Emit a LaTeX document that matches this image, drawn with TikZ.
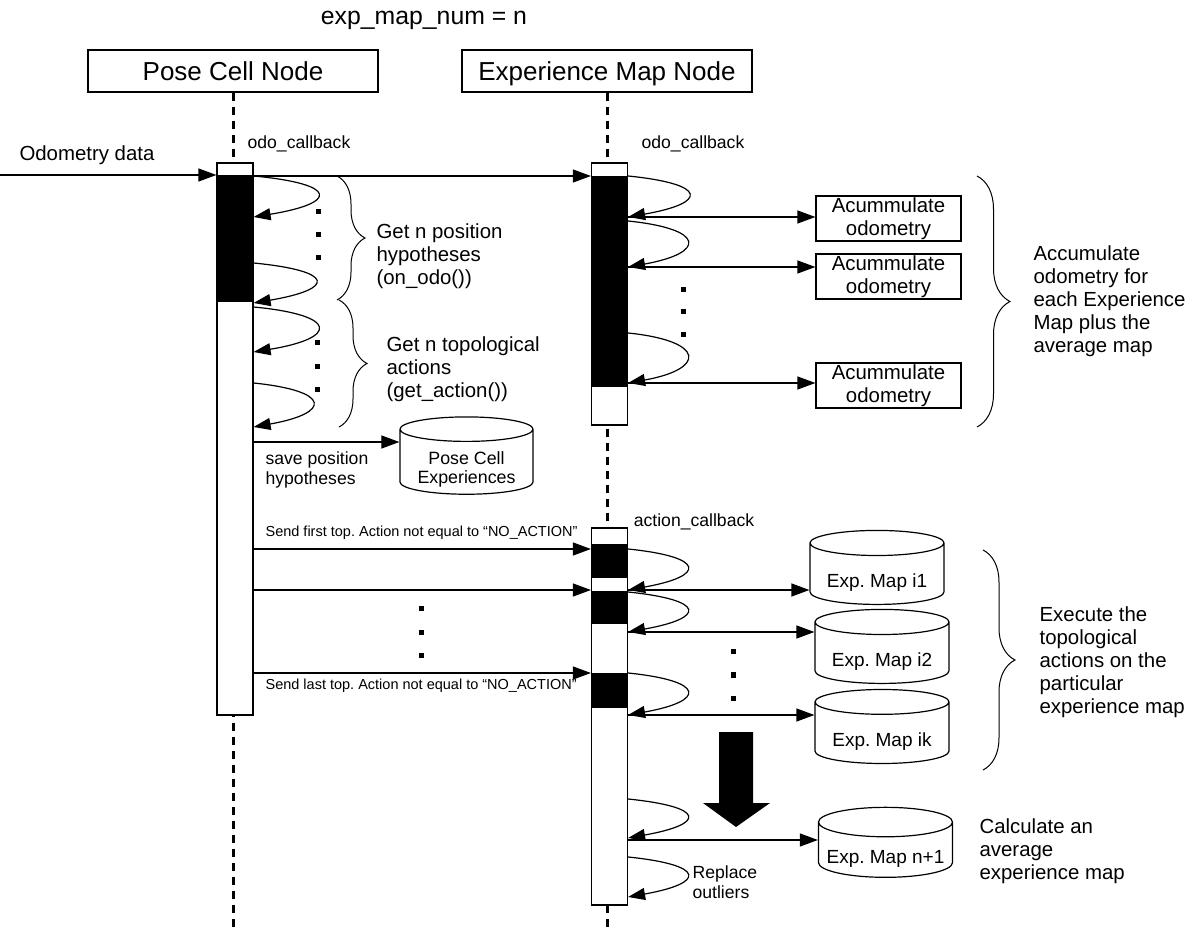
\documentclass[tikz,border=0pt]{standalone}
\usepackage{fontspec}
\setmainfont{Liberation Sans}
\frenchspacing
\usetikzlibrary{arrows.meta,shapes.geometric,decorations.pathreplacing,positioning}
\begin{document}
\begin{tikzpicture}[x=0.5pt,y=-0.5pt,line width=0.6pt,
  head/.style={draw,minimum width=145pt,minimum height=21pt,inner sep=0pt,text height=9.4pt,text depth=0pt,font=\fontsize{13}{15}\selectfont},
  bar/.style={draw,fill=white,minimum width=18pt,inner sep=0pt},
  act/.style={fill=black,minimum width=18pt,inner sep=0pt},
  life/.style={line width=1.5pt,dash pattern=on 4pt off 3pt},
  msg/.style={-{Triangle[length=9pt,width=6.5pt]}},
  self/.style={-{Triangle[length=8.5pt,width=6pt]}},
  accbox/.style={draw,minimum width=72.5pt,minimum height=22.5pt,inner sep=0pt,align=center,font=\fontsize{10.2}{11.5}\selectfont},
  db/.style={draw,cylinder,shape border rotate=90,aspect=0.25,minimum width=67pt,minimum height=37pt,inner sep=0pt,align=center,font=\fontsize{9.5}{11}\selectfont},
  lbl/.style={inner sep=0pt,align=left,font=\fontsize{10.2}{11.5}\selectfont},
  sml/.style={inner sep=0pt,align=left,font=\fontsize{8.8}{10}\selectfont},
  tny/.style={inner sep=0pt,font=\fontsize{7.25}{8.5}\selectfont},
  dotm/.style={fill=black,minimum size=2.5pt,inner sep=0pt},
  brc/.style={decorate,decoration={brace,amplitude=14pt},line width=0.5pt}]
\useasboundingbox (0,0) rectangle (1196,936);
% heads and lifelines
\node (title) at (424,20) {\fontsize{12.4}{14}\selectfont exp\_map\_num = n};
\node[head] (phead) at (233,71) {Pose Cell Node};
\node[head] (ehead) at (607,71) {Experience Map Node};
\draw[life] (phead.south) -- (phead.south |- 0,930);
\draw[life] (ehead.south) -- (ehead.south |- 0,930);
% activation bars
\node[bar,minimum height=276pt] (pbar) at (235,439) {};
\node[act,minimum height=63.5pt] (pact) at (235,238.5) {};
\node[bar,minimum height=131pt] (ebar) at (609.5,294) {};
\node[act,minimum height=105.5pt] (eact) at (609.5,281.5) {};
\node[bar,minimum height=188.5pt] (abar) at (609.5,716.5) {};
\node[act,minimum height=17pt] (aact1) at (609.5,561) {};
\node[act,minimum height=16.5pt] (aact2) at (609.5,607.5) {};
\node[act,minimum height=17.5pt] (aact3) at (609.5,690.5) {};
% odometry
\coordinate (odo) at (0,175);
\node[lbl] (odotxt) at (87,155) {Odometry data};
\draw[msg] (odo) -- (odo -| pbar.west);
\node[sml] (pcb) at (299,144) {odo\_callback};
\node[sml] (ecb) at (693,144) {odo\_callback};
\draw[msg] (pbar.east |- 0,176) -- (ebar.west |- 0,176);
% pose cell loops
\draw[self] (pbar.east |- 0,176) .. controls +(85,8) and +(85,-14) .. (pbar.east |- 0,217);
\draw[self] (pbar.east |- 0,263) .. controls +(82,8) and +(82,-14) .. (pbar.east |- 0,303);
\draw[self] (pbar.east |- 0,307) .. controls +(85,8) and +(85,-14) .. (pbar.east |- 0,352);
\draw[self] (pbar.east |- 0,383) .. controls +(78,8) and +(78,-14) .. (pbar.east |- 0,427);
\foreach \y [count=\i] in {212,235,258} \node[dotm] (pd\i) at (318,\y) {};
\foreach \y [count=\i] in {343,367,390} \node[dotm] (qd\i) at (317,\y) {};
\draw[brc] (337,176) -- (337,300);
\draw[brc] (339,300) -- (339,427);
\node[lbl,anchor=west] (gpos) at (376,256) {Get n position\\hypotheses\\(on\_odo())};
\node[lbl,anchor=west] (gact) at (386,369) {Get n topological\\actions\\(get\_action())};
% pose cell experiences
\node[db,minimum width=66.5pt,minimum height=35pt,font=\fontsize{8.9}{10}\selectfont] (pce) at (466.5,462)
  {\raisebox{-4pt}[\height][\depth]{\begin{tabular}{@{}c@{}}Pose Cell\\Experiences\end{tabular}}};
\draw[msg] (pbar.east |- 0,442) -- (pce.west |- 0,442);
\node[sml,anchor=west] (save) at (265,470) {save position\\hypotheses};
% experience map loops
\draw[self] (ebar.east |- 0,176) .. controls +(80,8) and +(80,-14) .. (ebar.east |- 0,217);
\draw[self] (ebar.east |- 0,221) .. controls +(78,8) and +(78,-14) .. (ebar.east |- 0,267);
\draw[self] (ebar.east |- 0,333) .. controls +(78,8) and +(78,-14) .. (ebar.east |- 0,383);
\foreach \y [count=\i] in {290,312,335} \node[dotm] (ed\i) at (683,\y) {};
\node[accbox] (acc1) at (888.5,218.5) {Acummulate\\odometry};
\node[accbox] (acc2) at (888.5,276.5) {Acummulate\\odometry};
\node[accbox] (acc3) at (888.5,385.5) {Acummulate\\odometry};
\draw[msg] (ebar.east |- 0,217) -- (acc1.west |- 0,217);
\draw[msg] (ebar.east |- 0,267) -- (acc2.west |- 0,267);
\draw[msg] (ebar.east |- 0,383) -- (acc3.west |- 0,383);
\draw[brc,decoration={amplitude=16.5pt}] (977,176) -- (977,427);
\node[lbl,anchor=west] (accum) at (1033,301) {Accumulate\\odometry for\\each Experience\\Map plus the\\average map};
% actions
\node[sml] (acb) at (694,522) {action\_callback};
\draw[msg] (pbar.east |- 0,549) -- (abar.west |- 0,549);
\draw[msg] (pbar.east |- 0,590) -- (abar.west |- 0,590);
\draw[msg] (pbar.east |- 0,673) -- (abar.west |- 0,673);
\node[tny,anchor=west] (sfirst) at (265,533) {Send first top. Action not equal to “NO\_ACTION”};
\node[tny,anchor=west] (slast) at (265,686) {Send last top. Action not equal to “NO\_ACTION”};
\foreach \y [count=\i] in {609,633,656} \node[dotm] (sd\i) at (421,\y) {};
\draw[self] (abar.east |- 0,549) .. controls +(78,8) and +(78,-14) .. (abar.east |- 0,590);
\draw[self] (abar.east |- 0,592) .. controls +(78,8) and +(78,-14) .. (abar.east |- 0,632);
\draw[self] (abar.east |- 0,673) .. controls +(78,8) and +(78,-14) .. (abar.east |- 0,715);
\node[db] (map1) at (877,574) {\raisebox{-4.5pt}[\height][\depth]{Exp. Map i1}};
\node[db] (map2) at (882,653) {\raisebox{-4.5pt}[\height][\depth]{Exp. Map i2}};
\node[db] (mapk) at (882,733) {\raisebox{-4.5pt}[\height][\depth]{Exp. Map ik}};
\draw[msg] (abar.east |- 0,590) -- (map1.west |- 0,590);
\draw[msg] (abar.east |- 0,632) -- (map2.west |- 0,632);
\draw[msg] (abar.east |- 0,715) -- (mapk.west |- 0,715);
\foreach \y [count=\i] in {652,675,698} \node[dotm] (md\i) at (733,\y) {};
\draw[brc,decoration={amplitude=16pt}] (983,550) -- (983,770);
\node[lbl,anchor=west] (exec) at (1039,662) {Execute the\\topological\\actions on the\\particular\\experience map};
% average map
\fill (719,732) -- (753,732) -- (753,803) -- (770,803) -- (736,827) -- (703,803) -- (719,803) -- cycle;
\draw[self] (abar.east |- 0,799) .. controls +(78,8) and +(78,-14) .. (abar.east |- 0,838);
\draw[self] (abar.east |- 0,857) .. controls +(78,8) and +(78,-14) .. (abar.east |- 0,897);
\node[db,minimum height=35pt] (mapn) at (885.5,850) {\raisebox{-4.5pt}[\height][\depth]{Exp. Map n+1}};
\draw[msg] (abar.east |- 0,840) -- (mapn.west |- 0,840);
\node[sml,anchor=west] (repl) at (692,882) {Replace\\outliers};
\node[lbl,anchor=west] (calc) at (979,851) {Calculate an\\average\\experience map};
\end{tikzpicture}
\end{document}
